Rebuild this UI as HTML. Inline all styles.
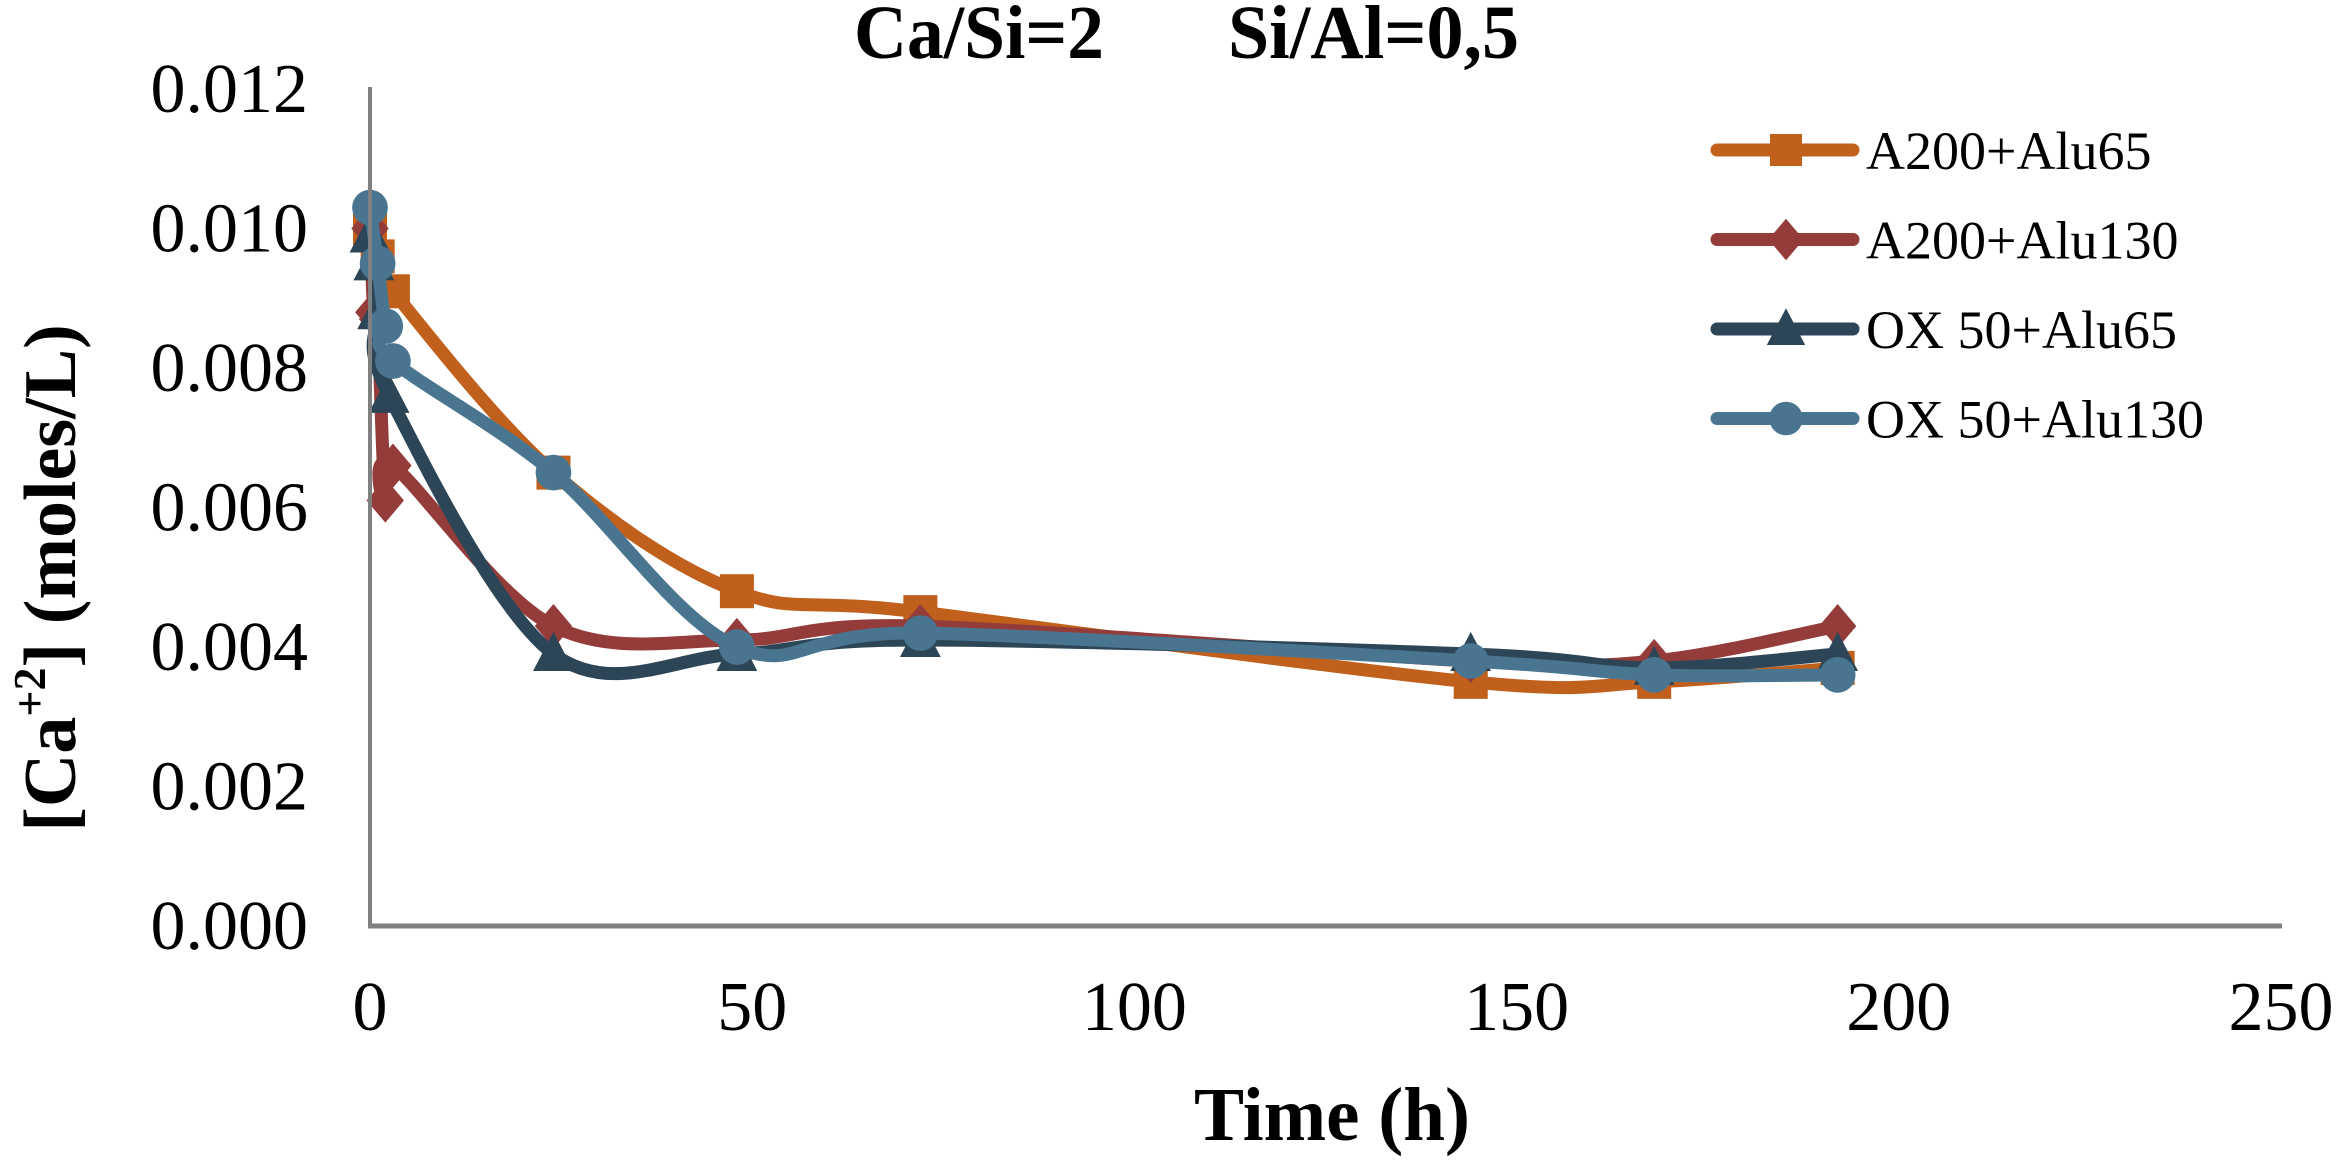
<!DOCTYPE html>
<html><head><meta charset="utf-8">
<style>
html,body{margin:0;padding:0;background:#fff;}
svg{display:block;font-family:"Liberation Serif","Times New Roman",serif;}
</style></head>
<body>
<svg id="chart" width="2341" height="1160" viewBox="0 0 2341 1160" xmlns="http://www.w3.org/2000/svg">
  <rect width="2341" height="1160" fill="#fff"/>
  <g font-weight="bold" font-size="76">
    <text x="1104" y="58" text-anchor="end" textLength="250" lengthAdjust="spacingAndGlyphs">Ca/Si=2</text>
    <text x="1228" y="58" textLength="291" lengthAdjust="spacingAndGlyphs">Si/Al=0,5</text>
  </g>
  <g id="series"></g>
  <line x1="370" y1="87" x2="370" y2="926" stroke="#808080" stroke-width="4"/>
  <line x1="368" y1="926" x2="2282" y2="926" stroke="#808080" stroke-width="5"/>
  <g id="yticks"></g>
  <g id="xticks"></g>
  <text x="1332" y="1140" text-anchor="middle" font-size="76" font-weight="bold" textLength="276" lengthAdjust="spacingAndGlyphs">Time (h)</text>
  <text transform="translate(75,578) rotate(-90)" text-anchor="middle" font-size="74" font-weight="bold">[Ca<tspan font-size="46" dy="-30">+2</tspan><tspan dy="30">] (moles/L)</tspan></text>
  <g id="legend"></g>
</svg>
<script>
const seriesNames = ["A200+Alu65","A200+Alu130","OX 50+Alu65","OX 50+Alu130"];
const seriesColors = ["#c0601c","#943c3a","#2d4657","#4a7590"];
const seriesMarkers = ["square","diamond","triangle","circle"];
const timesA = [0, 1, 3, 24, 48, 72, 144, 168, 192];
const valuesA = [0.0100, 0.0096, 0.0091, 0.0065, 0.0048, 0.0045, 0.0035, 0.0035, 0.0037];
const timesB = [0, 0.5, 1, 2, 3, 24, 48, 72, 144, 168, 192];
const valuesB = [0.0100, 0.0088, 0.0087, 0.0061, 0.0066, 0.0043, 0.0041, 0.0043, 0.0038, 0.0038, 0.0043];
const timesC = [0, 0.5, 1, 2.5, 24, 48, 72, 144, 168, 192];
const valuesC = [0.0099, 0.0095, 0.0088, 0.0076, 0.0039, 0.0039, 0.0041, 0.0039, 0.0037, 0.0039];
const timesD = [0, 1, 2, 3, 24, 48, 72, 144, 168, 192];
const valuesD = [0.0103, 0.0095, 0.0086, 0.0081, 0.0065, 0.0040, 0.0042, 0.0038, 0.0036, 0.0036];
const yTickValues = [0, 0.002, 0.004, 0.006, 0.008, 0.010, 0.012];
const yTickLabels = ["0.000","0.002","0.004","0.006","0.008","0.010","0.012"];
const xTickValues = [0, 50, 100, 150, 200, 250];
const xTickLabels = ["0","50","100","150","200","250"];

const NS = "http://www.w3.org/2000/svg";
const X0 = 370, X1 = 2281, Y0 = 926, Y1 = 89;
function xScale(t){ return X0 + (t/250)*(X1-X0); }
function yScale(v){ return Y0 - (v/0.012)*(Y0-Y1); }
function mk(tag, attrs, parent){
  const el = document.createElementNS(NS, tag);
  for (const k in attrs) el.setAttribute(k, attrs[k]);
  parent.appendChild(el);
  return el;
}

const yt = document.getElementById("yticks");
yTickValues.forEach((v,i)=>{
  const t = mk("text",{x:308,y:yScale(v)+23,"text-anchor":"end","font-size":"70"},yt);
  
  
  t.textContent = yTickLabels[i];
});
const xt = document.getElementById("xticks");
xTickValues.forEach((v,i)=>{
  const t = mk("text",{x:xScale(v),y:1030,"text-anchor":"middle","font-size":"70"},xt);
  
  
  t.textContent = xTickLabels[i];
});

function smoothPath(pts){
  let d = "M"+pts[0][0]+","+pts[0][1];
  for (let i=0;i<pts.length-1;i++){
    const p0 = pts[Math.max(0,i-1)], p1 = pts[i], p2 = pts[i+1], p3 = pts[Math.min(pts.length-1,i+2)];
    const c1x = p1[0]+(p2[0]-p0[0])/6, c1y = p1[1]+(p2[1]-p0[1])/6;
    const c2x = p2[0]-(p3[0]-p1[0])/6, c2y = p2[1]-(p3[1]-p1[1])/6;
    d += " C"+c1x+","+c1y+" "+c2x+","+c2y+" "+p2[0]+","+p2[1];
  }
  return d;
}
function drawMarker(type, cx, cy, color, parent, s){
  let el;
  if (type==="square") el = mk("rect",{x:cx-s,y:cy-s,width:2*s,height:2*s,fill:color},parent);
  else if (type==="diamond") el = mk("polygon",{points:`${cx},${cy-s*1.3} ${cx+s*1.1},${cy} ${cx},${cy+s*1.3} ${cx-s*1.1},${cy}`,fill:color},parent);
  else if (type==="triangle") el = mk("polygon",{points:`${cx},${cy-s*1.3} ${cx+s*1.2},${cy+s} ${cx-s*1.2},${cy+s}`,fill:color},parent);
  else el = mk("circle",{cx:cx,cy:cy,r:s*1.05,fill:color},parent);
  return el;
}

const allTimes = [timesA,timesB,timesC,timesD];
const allValues = [valuesA,valuesB,valuesC,valuesD];
const sg = document.getElementById("series");
allTimes.forEach((ts,si)=>{
  const g = mk("g",{},sg);
  
  
  const pts = ts.map((t,i)=>[xScale(t), yScale(allValues[si][i])]);
  const p = mk("path",{d:smoothPath(pts),fill:"none",stroke:seriesColors[si],"stroke-width":"13","stroke-linejoin":"round","stroke-linecap":"round"},g);
  
  
  pts.forEach(pt=>{
    const m = drawMarker(seriesMarkers[si], pt[0], pt[1], seriesColors[si], g, 17);
    
    
  });
});

const lg = document.getElementById("legend");
seriesNames.forEach((n,i)=>{
  const y = 150 + i*89.5;
  const g = mk("g",{},lg);
  
  
  mk("line",{x1:1717,y1:y,x2:1853,y2:y,stroke:seriesColors[i],"stroke-width":"13","stroke-linecap":"round"},g);
  drawMarker(seriesMarkers[i], 1786, y, seriesColors[i], g, 16);
  const t = mk("text",{x:1866,y:y+19,"font-size":"54"},g);
  
  
  t.textContent = n;
});
</script>
</body></html>
